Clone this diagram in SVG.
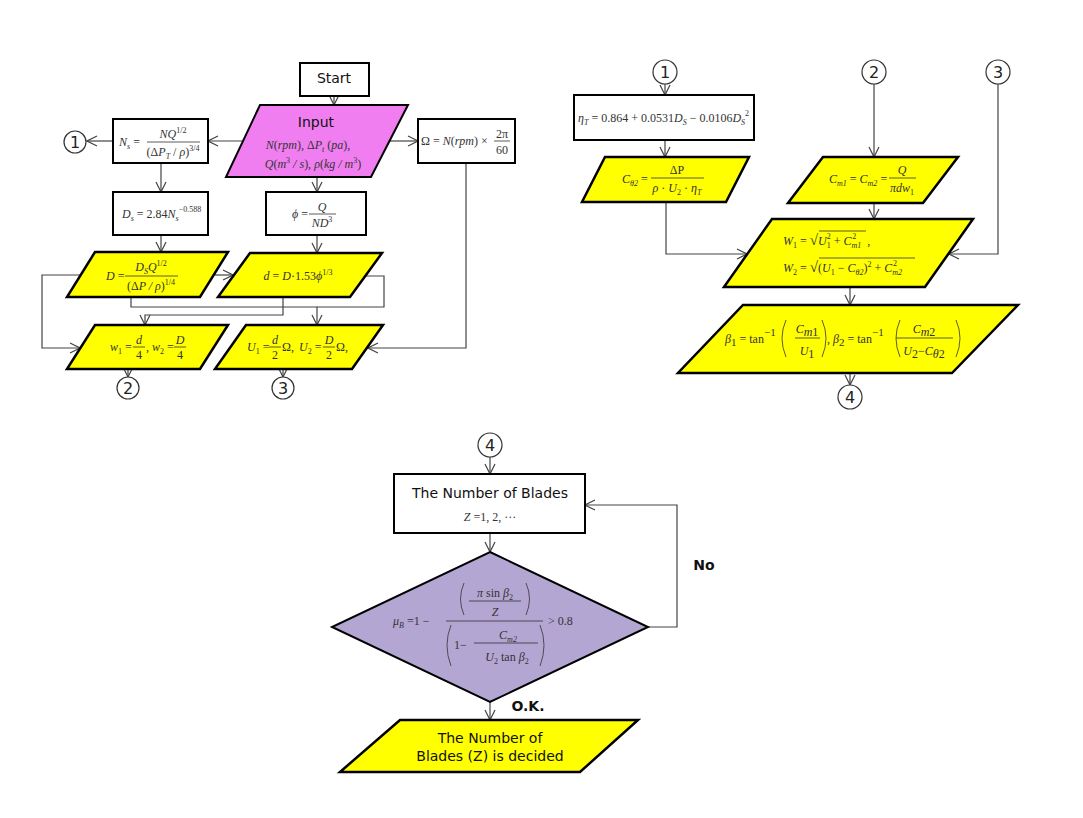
<svg xmlns="http://www.w3.org/2000/svg" width="1083" height="818" viewBox="0 0 1083 818">
<defs>
<style>
.box{fill:#fff;stroke:#000;stroke-width:2}
.yel{fill:#ffff00;stroke:#000;stroke-width:2.5}
.pink{fill:#f07ef0;stroke:#000;stroke-width:2}
.dia{fill:#b3a6d2;stroke:#000;stroke-width:2}
.con{fill:none;stroke:#444;stroke-width:1.2}
.arr{marker-end:url(#ah)}
.circ{fill:#fff;stroke:#333;stroke-width:1.2}
.num{font-family:"DejaVu Sans",sans-serif;font-size:16px;text-anchor:middle;fill:#222}
.lbl{font-family:"DejaVu Sans",sans-serif;font-size:14px;text-anchor:middle;fill:#111}
.bold{font-family:"DejaVu Sans",sans-serif;font-size:14px;font-weight:bold;fill:#111}
.m{font-family:"Liberation Serif",serif;font-size:12px;font-style:italic;fill:#333}
.c{text-anchor:middle}
.u{font-style:normal}
.s{font-size:8px}
.fl{stroke:#333;stroke-width:0.8;fill:none}
</style>
<marker id="ah" viewBox="0 0 12 12" refX="11" refY="6" markerWidth="12" markerHeight="12" markerUnits="userSpaceOnUse" orient="auto">
<path d="M1,1 L11,6 L1,11" fill="none" stroke="#444" stroke-width="1.2"/>
</marker>
</defs>
<rect width="1083" height="818" fill="#fff"/>

<g id="connectors">
<path class="con arr" d="M334,96 L334,105"/>
<path class="con arr" d="M243,141 L208,141"/>
<path class="con arr" d="M113,141 L87,141"/>
<path class="con arr" d="M390,141 L418,141"/>
<path class="con arr" d="M161,163 L161,192"/>
<path class="con arr" d="M317,177 L317,192"/>
<path class="con arr" d="M161,235 L161,252"/>
<path class="con arr" d="M317,235 L317,253"/>
<path class="con arr" d="M215,275 L233,275"/>
<path class="con arr" d="M81,275 L42,275 L42,348 L80,348"/>
<path class="con arr" d="M131,297 L131,307 L317,307 L317,325"/>
<path class="con" d="M365,276 L384,276 L384,307 L317,307"/>
<path class="con arr" d="M283,297 L283,315 L145,315 L145,325"/>
<path class="con arr" d="M466,163 L466,348 L368,348"/>
<path class="con arr" d="M128,369 L128,377"/>
<path class="con arr" d="M283,369 L283,377"/>
<path class="con arr" d="M665,84 L665,95"/>
<path class="con arr" d="M665,140 L665,157"/>
<path class="con arr" d="M874,84 L874,157"/>
<path class="con arr" d="M998,84 L998,254 L949,254"/>
<path class="con arr" d="M666,202 L666,254 L747,254"/>
<path class="con arr" d="M874,203 L874,219"/>
<path class="con arr" d="M850,287 L850,305"/>
<path class="con arr" d="M850,373 L850,385"/>
<path class="con arr" d="M490,457 L490,474"/>
<path class="con arr" d="M490,533 L490,552"/>
<path class="con arr" d="M648,627 L677,627 L677,505 L585,505"/>
<path class="con arr" d="M490,702 L490,720"/>
</g>

<g id="start"><rect class="box" x="300" y="63" width="69" height="33"/><text class="lbl" x="334" y="83" font-size="13">Start</text></g>

<g id="input">
<polygon class="pink" points="260,105 408,105 371,177 226,177"/>
<text class="lbl" x="316" y="127">Input</text>
<text class="m c" x="308" y="149">N<tspan class="u">(</tspan>rpm<tspan class="u">), Δ</tspan>P<tspan class="s" dy="3">t</tspan><tspan class="u" dy="-3"> (</tspan>pa<tspan class="u">),</tspan></text>
<text class="m c" x="313" y="168">Q<tspan class="u">(</tspan>m<tspan class="s u" dy="-5">3</tspan><tspan dy="5"> / </tspan>s<tspan class="u">), </tspan>ρ<tspan class="u">(</tspan>kg / m<tspan class="s u" dy="-5">3</tspan><tspan class="u" dy="5">)</tspan></text>
</g>

<g id="ns">
<rect class="box" x="113" y="119" width="95" height="44"/>
<text class="m" x="119" y="146">N<tspan class="s" dy="3">s</tspan><tspan class="u" dy="-3"> =</tspan></text>
<text class="m c" x="173" y="138">NQ<tspan class="s u" dy="-5">1/2</tspan></text>
<line class="fl" x1="147" y1="142" x2="200" y2="142"/>
<text class="m c" x="173" y="156"><tspan class="u">(Δ</tspan>P<tspan class="s" dy="3">T</tspan><tspan class="u" dy="-3"> / </tspan>ρ<tspan class="u">)</tspan><tspan class="s u" dy="-5">3/4</tspan></text>
</g>

<g id="omega">
<rect class="box" x="418" y="119" width="97" height="44"/>
<text class="m" x="421" y="145" font-size="11"><tspan class="u">Ω = </tspan>N<tspan class="u">(</tspan>rpm<tspan class="u">) ×</tspan></text>
<text class="m c u" x="502" y="138" font-size="11">2π</text>
<line class="fl" x1="494" y1="141" x2="510" y2="141"/>
<text class="m c u" x="502" y="154" font-size="11">60</text>
</g>

<g id="c1"><circle class="circ" cx="75" cy="142" r="11"/><text class="num" x="75" y="148">1</text></g>

<g id="ds">
<rect class="box" x="113" y="192" width="95" height="43"/>
<text class="m" x="122" y="218" font-size="12.5">D<tspan class="s" dy="3">s</tspan><tspan class="u" dy="-3"> = 2.84</tspan>N<tspan class="s" dy="3">s</tspan><tspan class="s u" dy="-9">−0.588</tspan></text>
</g>

<g id="phi">
<rect class="box" x="266" y="192" width="100" height="43"/>
<text class="m" x="292" y="218">ϕ<tspan class="u"> =</tspan></text>
<text class="m c" x="322" y="211">Q</text>
<line class="fl" x1="309" y1="214" x2="336" y2="214"/>
<text class="m c" x="322" y="227">ND<tspan class="s u" dy="-5">3</tspan></text>
</g>

<g id="dbig">
<polygon class="yel" points="95,252 228,252 200,297 67,297"/>
<text class="m" x="106" y="280">D<tspan class="u"> =</tspan></text>
<text class="m c" x="151" y="271">D<tspan class="s" dy="3">S</tspan><tspan dy="-3">Q</tspan><tspan class="s u" dy="-5">1/2</tspan></text>
<line class="fl" x1="125" y1="276" x2="178" y2="276"/>
<text class="m c" x="151" y="290"><tspan class="u">(Δ</tspan>P / ρ<tspan class="u">)</tspan><tspan class="s u" dy="-5">1/4</tspan></text>
</g>

<g id="dsmall">
<polygon class="yel" points="250,253 382,253 350,297 218,297"/>
<text class="m c" x="298" y="280">d<tspan class="u"> = </tspan>D<tspan class="u">·1.53</tspan>ϕ<tspan class="s u" dy="-5">1/3</tspan></text>
</g>

<g id="w">
<polygon class="yel" points="95,325 228,325 200,369 67,369"/>
<text class="m" x="110" y="351">w<tspan class="s u" dy="3">1</tspan><tspan class="u" dy="-3"> =</tspan></text>
<text class="m c" x="139" y="344">d</text>
<line class="fl" x1="133" y1="347" x2="145" y2="347"/>
<text class="m c u" x="139" y="359">4</text>
<text class="m" x="146" y="351"><tspan class="u">, </tspan>w<tspan class="s u" dy="3">2</tspan><tspan class="u" dy="-3"> =</tspan></text>
<text class="m c" x="180" y="344">D</text>
<line class="fl" x1="174" y1="347" x2="186" y2="347"/>
<text class="m c u" x="180" y="359">4</text>
</g>

<g id="u">
<polygon class="yel" points="246,325 383,325 352,369 215,369"/>
<text class="m" x="247" y="351">U<tspan class="s u" dy="3">1</tspan><tspan class="u" dy="-3"> =</tspan></text>
<text class="m c" x="275" y="344">d</text>
<line class="fl" x1="269" y1="347" x2="281" y2="347"/>
<text class="m c u" x="275" y="359">2</text>
<text class="m u" x="282" y="351">Ω, </text>
<text class="m" x="299" y="351">U<tspan class="s u" dy="3">2</tspan><tspan class="u" dy="-3"> =</tspan></text>
<text class="m c" x="329" y="344">D</text>
<line class="fl" x1="323" y1="347" x2="335" y2="347"/>
<text class="m c u" x="329" y="359">2</text>
<text class="m u" x="336" y="351">Ω,</text>
</g>

<g id="c2"><circle class="circ" cx="128" cy="388" r="11"/><text class="num" x="128" y="394">2</text></g>
<g id="c3"><circle class="circ" cx="283" cy="388" r="11"/><text class="num" x="283" y="394">3</text></g>

<g id="rc1"><circle class="circ" cx="665" cy="72" r="12"/><text class="num" x="665" y="78">1</text></g>
<g id="rc2"><circle class="circ" cx="874" cy="72" r="12"/><text class="num" x="874" y="78">2</text></g>
<g id="rc3"><circle class="circ" cx="998" cy="72" r="12"/><text class="num" x="998" y="78">3</text></g>

<g id="eta">
<rect class="box" x="574" y="95" width="180" height="45"/>
<text class="m" x="578" y="122" font-size="12.5">η<tspan class="s" dy="3">T</tspan><tspan class="u" dy="-3"> = 0.864 + 0.0531</tspan>D<tspan class="s" dy="3">S</tspan><tspan class="u" dy="-3"> − 0.0106</tspan>D<tspan class="s" dy="3">S</tspan><tspan class="s u" dy="-9">2</tspan></text>
</g>

<g id="ctheta">
<polygon class="yel" points="605,157 749,157 726,202 582,202"/>
<text class="m" x="622" y="183">C<tspan class="s" dy="3">θ2</tspan><tspan class="u" dy="-3"> =</tspan></text>
<text class="m c u" x="677" y="174">ΔP</text>
<line class="fl" x1="651" y1="178" x2="704" y2="178"/>
<text class="m c" x="677" y="192">ρ<tspan class="u"> · </tspan>U<tspan class="s u" dy="3">2</tspan><tspan class="u" dy="-3"> · </tspan>η<tspan class="s" dy="3">T</tspan></text>
</g>

<g id="cm">
<polygon class="yel" points="823,157 958,157 923,203 788,203"/>
<text class="m" x="829" y="183">C<tspan class="s" dy="3">m1</tspan><tspan class="u" dy="-3"> = </tspan>C<tspan class="s" dy="3">m2</tspan><tspan class="u" dy="-3"> =</tspan></text>
<text class="m c" x="902" y="174">Q</text>
<line class="fl" x1="889" y1="178" x2="916" y2="178"/>
<text class="m c" x="902" y="192">πdw<tspan class="s u" dy="3">1</tspan></text>
</g>

<g id="wrel">
<polygon class="yel" points="772,219 973,219 925,287 724,287"/>
<text class="m" x="783" y="245">W<tspan class="s u" dy="3">1</tspan><tspan class="u" dy="-3"> = </tspan><tspan class="u" font-size="15">√</tspan>U<tspan class="s u" dy="3">1</tspan><tspan class="s u" dx="-4" dy="-9">2</tspan><tspan class="u" dy="6"> + </tspan>C<tspan class="s" dy="3">m1</tspan><tspan class="s u" dx="-9" dy="-9">2</tspan><tspan class="u" dx="8" dy="6"> ,</tspan></text>
<line class="fl" x1="819" y1="231" x2="866" y2="231"/>
<text class="m" x="783" y="272">W<tspan class="s u" dy="3">2</tspan><tspan class="u" dy="-3"> = </tspan><tspan class="u" font-size="15">√</tspan><tspan class="u">(</tspan>U<tspan class="s u" dy="3">1</tspan><tspan class="u" dy="-3"> − </tspan>C<tspan class="s" dy="3">θ2</tspan><tspan class="u" dy="-3">)</tspan><tspan class="s u" dy="-5">2</tspan><tspan class="u" dy="5"> + </tspan>C<tspan class="s" dy="3">m2</tspan><tspan class="s u" dx="-9" dy="-9">2</tspan></text>
<line class="fl" x1="819" y1="258" x2="915" y2="258"/>
</g>

<g id="beta">
<polygon class="yel" points="743,305 1018,305 952,373 678,373"/>
<text class="m" x="725" y="343" font-size="16">β<tspan class="u" font-size="11" dy="3">1</tspan><tspan class="u" dy="-3"> = tan</tspan><tspan class="u" font-size="11" dy="-7">−1</tspan></text>
<path class="fl" d="M786,320 Q778,338 786,357"/>
<text class="m c" x="807" y="333" font-size="16">C<tspan font-size="12" dy="3">m</tspan><tspan class="u" font-size="12">1</tspan></text>
<line class="fl" x1="795" y1="338" x2="820" y2="338"/>
<text class="m c" x="807" y="355" font-size="16">U<tspan class="u" font-size="12" dy="3">1</tspan></text>
<path class="fl" d="M822,320 Q830,338 822,357"/>
<text class="m" x="827" y="343" font-size="16"><tspan class="u">, </tspan>β<tspan class="u" font-size="11" dy="3">2</tspan><tspan class="u" dy="-3"> = tan</tspan><tspan class="u" font-size="11" dy="-7">−1</tspan></text>
<path class="fl" d="M900,320 Q892,338 900,357"/>
<text class="m c" x="924" y="333" font-size="16">C<tspan font-size="12" dy="3">m</tspan><tspan class="u" font-size="12">2</tspan></text>
<line class="fl" x1="896" y1="338" x2="953" y2="338"/>
<text class="m c" x="924" y="355" font-size="16">U<tspan class="u" font-size="12" dy="3">2</tspan><tspan class="u" dy="-3">−</tspan>C<tspan font-size="12" dy="3">θ</tspan><tspan class="u" font-size="12">2</tspan></text>
<path class="fl" d="M956,320 Q964,338 956,357"/>
</g>

<g id="rc4"><circle class="circ" cx="850" cy="397" r="12"/><text class="num" x="850" y="403">4</text></g>

<g id="bc4"><circle class="circ" cx="490" cy="445" r="12"/><text class="num" x="490" y="451">4</text></g>

<g id="blades">
<rect class="box" x="394" y="474" width="191" height="59"/>
<text class="lbl" x="490" y="498">The Number of Blades</text>
<text class="m c" x="490" y="521"><tspan>Z</tspan><tspan class="u"> =1, 2, ···</tspan></text>
</g>

<g id="decision">
<polygon class="dia" points="490,552 648,627 490,702 332,627"/>
<text class="m" x="393" y="625" font-size="15">μ<tspan class="s" dy="3">B</tspan><tspan class="u" dy="-3"> =1 −</tspan></text>
<path class="fl" d="M464,583 Q457,599 464,615"/>
<text class="m c" x="495" y="597" font-size="15">π <tspan class="u">sin</tspan> β<tspan class="s u" dy="3">2</tspan></text>
<line class="fl" x1="469" y1="601" x2="521" y2="601"/>
<text class="m c" x="495" y="616" font-size="15">Z</text>
<path class="fl" d="M526,583 Q533,599 526,615"/>
<line class="fl" x1="446" y1="621" x2="543" y2="621"/>
<path class="fl" d="M451,625 Q443,645 451,666"/>
<text class="m u" x="454" y="649" font-size="15">1−</text>
<text class="m c" x="508" y="639" font-size="15">C<tspan class="s" dy="3">m2</tspan></text>
<line class="fl" x1="474" y1="643" x2="538" y2="643"/>
<text class="m c" x="507" y="661" font-size="15">U<tspan class="s u" dy="3">2</tspan><tspan class="u" dy="-3"> tan </tspan>β<tspan class="s u" dy="3">2</tspan></text>
<path class="fl" d="M540,625 Q548,645 540,666"/>
<text class="m u" x="548" y="625" font-size="15">&gt; 0.8</text>
</g>

<g id="decided">
<polygon class="yel" points="400,720 638,720 580,772 340,772"/>
<text class="lbl" x="490" y="743" font-size="13.5">The Number of</text>
<text class="lbl" x="490" y="761" font-size="13.5">Blades (Z) is decided</text>
</g>

<text class="bold" x="704" y="570" text-anchor="middle">No</text>
<text class="bold" x="528" y="711" text-anchor="middle" font-size="13">O.K.</text>
</svg>
